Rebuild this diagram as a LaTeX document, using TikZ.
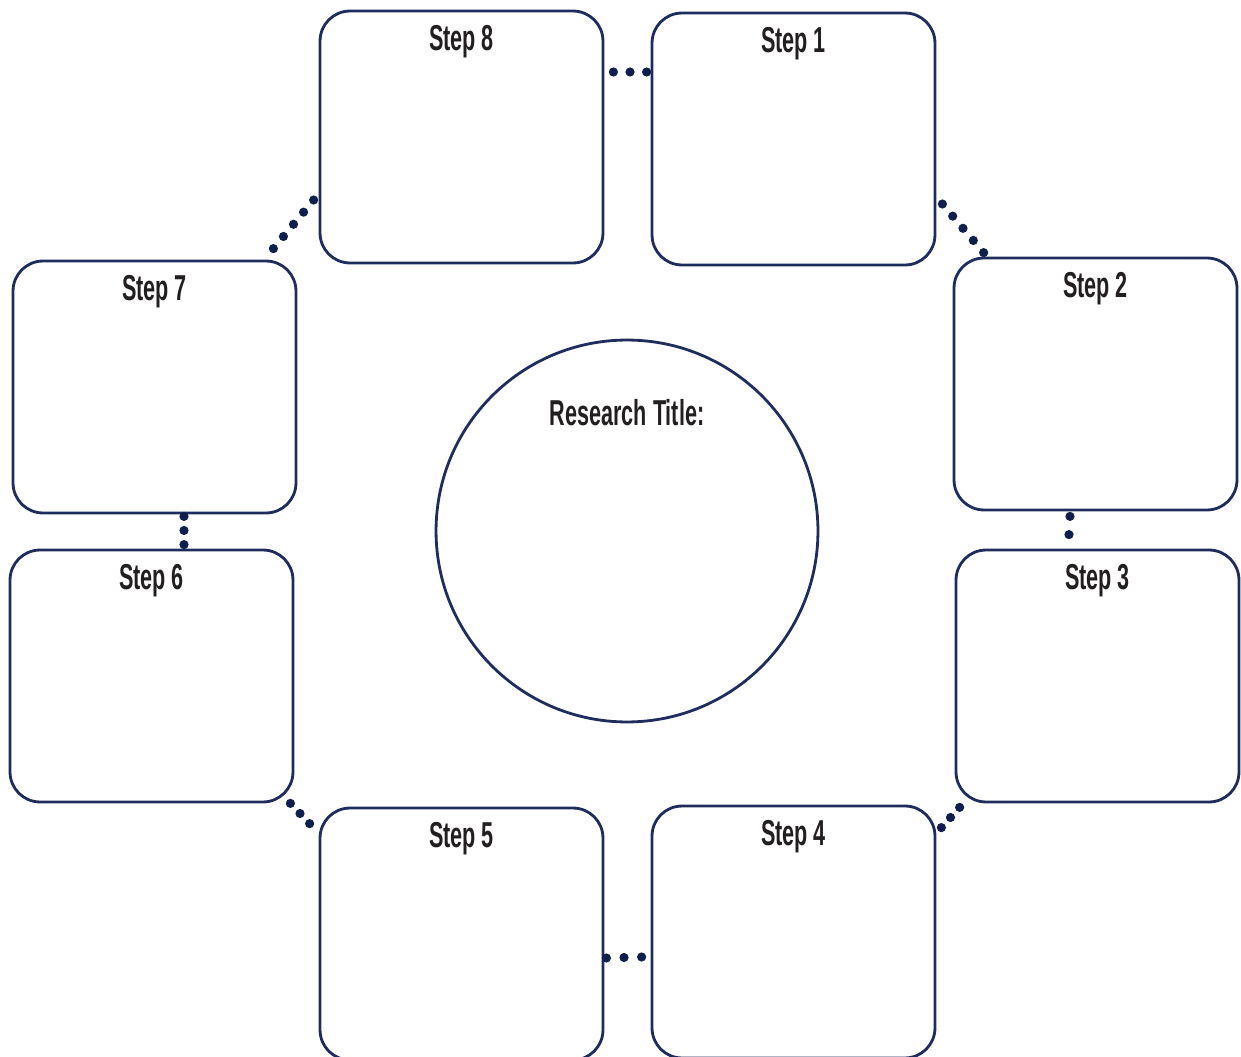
\documentclass[tikz,border=0pt]{standalone}
\usepackage{fontspec}
\setmainfont{Liberation Sans}[FakeStretch=0.6]
\usetikzlibrary{calc}
\definecolor{navy}{HTML}{1F2D5E}
\definecolor{dotblue}{HTML}{0F1E4C}
\definecolor{ink}{HTML}{231F20}
\tikzset{
  stepbox/.style={draw=navy, line width=1.6pt, rounded corners=0.6cm, minimum width=5.66cm, minimum height=5.04cm, inner sep=0pt},
  steplabel/.style={anchor=north, yshift=-0.2cm, text=ink, font=\fontsize{20.5}{24}\selectfont\bfseries},
}
% dotted link: n+1 dots from #1 to #2
\newcommand{\dotlink}[3]{\foreach \t in {0,...,#3}{\fill[dotblue] ($(#1)!\t/#3!(#2)$) circle (0.092cm);}}
\begin{document}
\begin{tikzpicture}[x=0.02cm, y=-0.02cm]
    \useasboundingbox (0,0) rectangle (1241,1057);
    \clip (0,0) rectangle (1241,1057);

    \node[stepbox, label={[steplabel]north:Step 8}] (s8) at (461.5,137) {};
    \node[stepbox, label={[steplabel]north:Step 1}] (s1) at (793.5,139) {};
    \node[stepbox, label={[steplabel]north:Step 2}] (s2) at (1095.5,384) {};
    \node[stepbox, label={[steplabel]north:Step 3}] (s3) at (1097.5,676) {};
    \node[stepbox, label={[steplabel]north:Step 4}] (s4) at (793.5,932) {};
    \node[stepbox, label={[steplabel]north:Step 5}] (s5) at (461.5,934) {};
    \node[stepbox, label={[steplabel]north:Step 6}] (s6) at (151.5,676) {};
    \node[stepbox, label={[steplabel]north:Step 7}] (s7) at (154.5,387) {};

    \node[draw=navy, line width=1.6pt, circle, minimum size=7.64cm, inner sep=0pt,
          label={[steplabel, yshift=-0.89cm]north:Research Title:}] (title) at (627,531) {};

    \coordinate (a81) at ($(s8.east)+(9,-65)$);
    \coordinate (b81) at ($(s1.west)+(-4,-67)$);
    \coordinate (a12) at ($(s1.east)+(6,65)$);
    \coordinate (b12) at ($(s2.north west)+(31,-4)$);
    \coordinate (a87) at ($(s8.west)+(-5,63)$);
    \coordinate (b87) at ($(s7.north east)+(-24,-11)$);
    \coordinate (a76) at ($(s7.south)+(29.5,2)$);
    \coordinate (b76) at ($(s6.north)+(32.5,-4)$);
    \coordinate (a23) at ($(s2.south)+(-25.5,5)$);
    \coordinate (b23) at ($(s3.north)+(-28.5,-14)$);
    \coordinate (a65) at ($(s6.south east)+(-4,0)$);
    \coordinate (b65) at ($(s5.north west)+(-9,17)$);
    \coordinate (a34) at ($(s3.south west)+(5,4)$);
    \coordinate (b34) at ($(s4.north east)+(5,23)$);
    \coordinate (a54) at ($(s5.east)+(2,24)$);
    \coordinate (b54) at ($(s4.west)+(-9,25)$);

    \dotlink{a81}{b81}{2}
    \dotlink{a12}{b12}{4}
    \dotlink{a87}{b87}{4}
    \dotlink{a76}{b76}{2}
    \dotlink{a23}{b23}{1}
    \dotlink{a65}{b65}{2}
    \dotlink{a34}{b34}{2}
    \dotlink{a54}{b54}{2}
\end{tikzpicture}
\end{document}
